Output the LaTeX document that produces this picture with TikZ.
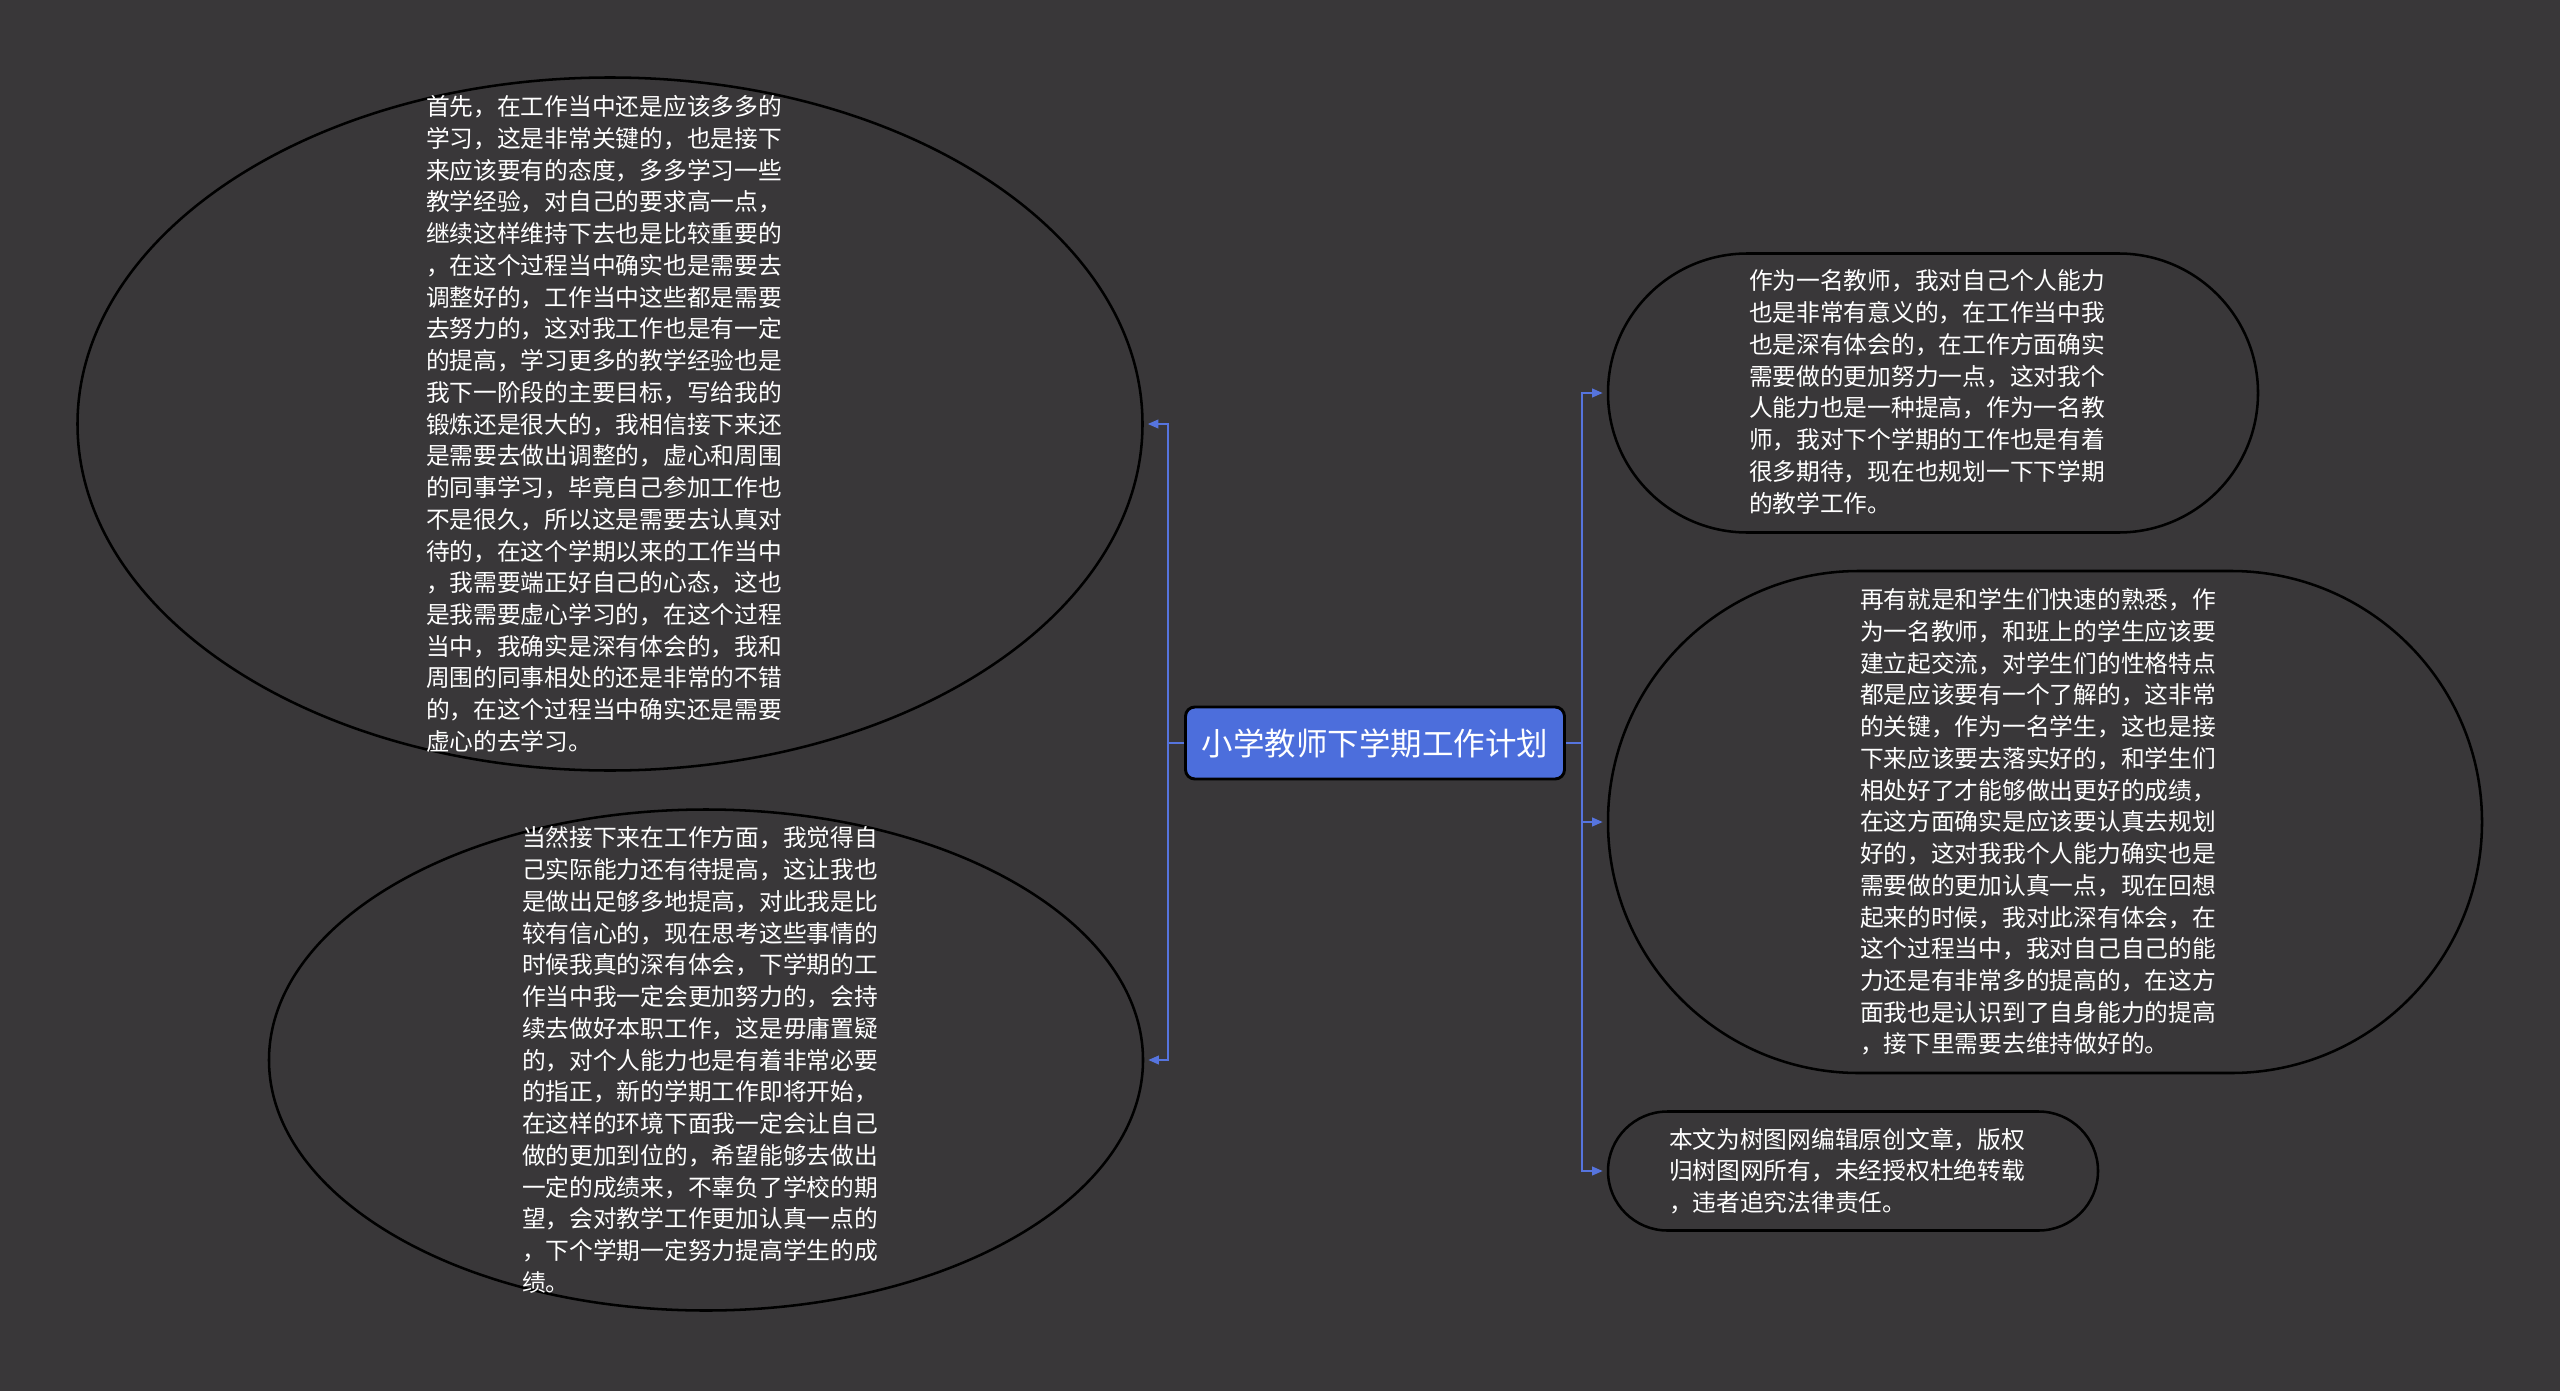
\documentclass[tikz,border=0pt]{standalone}
\usepackage{fontspec}
\setmainfont{Noto Sans CJK SC}
\usetikzlibrary{shapes.geometric,arrows.meta}

\definecolor{bgdark}{RGB}{57,55,57}
\definecolor{rootblue}{RGB}{76,110,220}
\definecolor{linkblue}{RGB}{86,116,222}

\tikzset{every picture/.style={line width=0.75pt}}
\tikzset{
  bubble/.style={draw=black, line width=1.9pt, fill=bgdark},
  stadium/.style={bubble, rectangle, rounded corners=#1},
  leaftext/.style={text=white, align=left, inner sep=0pt, font=\fontsize{17.8pt}{23.8pt}\selectfont},
  link/.style={draw=linkblue, line width=1.5pt},
  linkarrow/.style={link, -{Triangle[length=8pt,width=6.5pt]}, shorten >=3pt},
}

\begin{document}
\begin{tikzpicture}[x=0.75pt,y=0.75pt,yscale=-1,xscale=1]
\useasboundingbox (0,0) rectangle (2560,1391);
\fill[bgdark] (0,0) rectangle (2560,1391);

%Shape: Rounded Rect [id:root]
\node[draw=black, line width=2.2pt, fill=rootblue, rounded corners=7pt, minimum width=284.25pt, minimum height=54pt, text=white, font=\fontsize{23.6pt}{28pt}\selectfont] (root) at (1375,743) {小学教师下学期工作计划};

%Shape: Ellipse [id:left1]
\node[bubble, ellipse, minimum width=798.75pt, minimum height=519.75pt] (b1) at (610,424) {};
%Shape: Ellipse [id:left2]
\node[bubble, ellipse, minimum width=655.5pt, minimum height=375.75pt] (b2) at (706,1060) {};
%Shape: Stadium [id:right1]
\node[stadium=104.6pt, minimum width=487.5pt, minimum height=209.25pt] (r1) at (1933,393) {};
%Shape: Stadium [id:right2]
\node[stadium=188.2pt, minimum width=655.5pt, minimum height=376.5pt] (r2) at (2045,822) {};
%Shape: Stadium [id:right3]
\node[stadium=44.6pt, minimum width=367.5pt, minimum height=89.25pt] (r3) at (1853,1171) {};

% Connectors
\draw[linkarrow] (root.west) -- ++(-16,0) |- (b1.east);
\draw[linkarrow] (root.west) -- ++(-16,0) |- (b2.east);
\draw[linkarrow] (root.east) -- ++(16,0) |- (r1.west);
\draw[linkarrow] (root.east) -- ++(16,0) |- (r2.west);
\draw[linkarrow] (root.east) -- ++(16,0) |- (r3.west);

% Text Node
\node[leaftext] (t1) at (604,424) {首先，在工作当中还是应该多多的\\学习，这是非常关键的，也是接下\\来应该要有的态度，多多学习一些\\教学经验，对自己的要求高一点，\\继续这样维持下去也是比较重要的\\，在这个过程当中确实也是需要去\\调整好的，工作当中这些都是需要\\去努力的，这对我工作也是有一定\\的提高，学习更多的教学经验也是\\我下一阶段的主要目标，写给我的\\锻炼还是很大的，我相信接下来还\\是需要去做出调整的，虚心和周围\\的同事学习，毕竟自己参加工作也\\不是很久，所以这是需要去认真对\\待的，在这个学期以来的工作当中\\，我需要端正好自己的心态，这也\\是我需要虚心学习的，在这个过程\\当中，我确实是深有体会的，我和\\周围的同事相处的还是非常的不错\\的，在这个过程当中确实还是需要\\虚心的去学习。};
% Text Node
\node[leaftext] (t2) at (700,1060) {当然接下来在工作方面，我觉得自\\己实际能力还有待提高，这让我也\\是做出足够多地提高，对此我是比\\较有信心的，现在思考这些事情的\\时候我真的深有体会，下学期的工\\作当中我一定会更加努力的，会持\\续去做好本职工作，这是毋庸置疑\\的，对个人能力也是有着非常必要\\的指正，新的学期工作即将开始，\\在这样的环境下面我一定会让自己\\做的更加到位的，希望能够去做出\\一定的成绩来，不辜负了学校的期\\望，会对教学工作更加认真一点的\\，下个学期一定努力提高学生的成\\绩。};
% Text Node
\node[leaftext] (t3) at (1927,392) {作为一名教师，我对自己个人能力\\也是非常有意义的，在工作当中我\\也是深有体会的，在工作方面确实\\需要做的更加努力一点，这对我个\\人能力也是一种提高，作为一名教\\师，我对下个学期的工作也是有着\\很多期待，现在也规划一下下学期\\的教学工作。};
% Text Node
\node[leaftext] (t4) at (2038,822) {再有就是和学生们快速的熟悉，作\\为一名教师，和班上的学生应该要\\建立起交流，对学生们的性格特点\\都是应该要有一个了解的，这非常\\的关键，作为一名学生，这也是接\\下来应该要去落实好的，和学生们\\相处好了才能够做出更好的成绩，\\在这方面确实是应该要认真去规划\\好的，这对我我个人能力确实也是\\需要做的更加认真一点，现在回想\\起来的时候，我对此深有体会，在\\这个过程当中，我对自己自己的能\\力还是有非常多的提高的，在这方\\面我也是认识到了自身能力的提高\\，接下里需要去维持做好的。};
% Text Node
\node[leaftext] (t5) at (1847,1171) {本文为树图网编辑原创文章，版权\\归树图网所有，未经授权杜绝转载\\，违者追究法律责任。};

\end{tikzpicture}
\end{document}
